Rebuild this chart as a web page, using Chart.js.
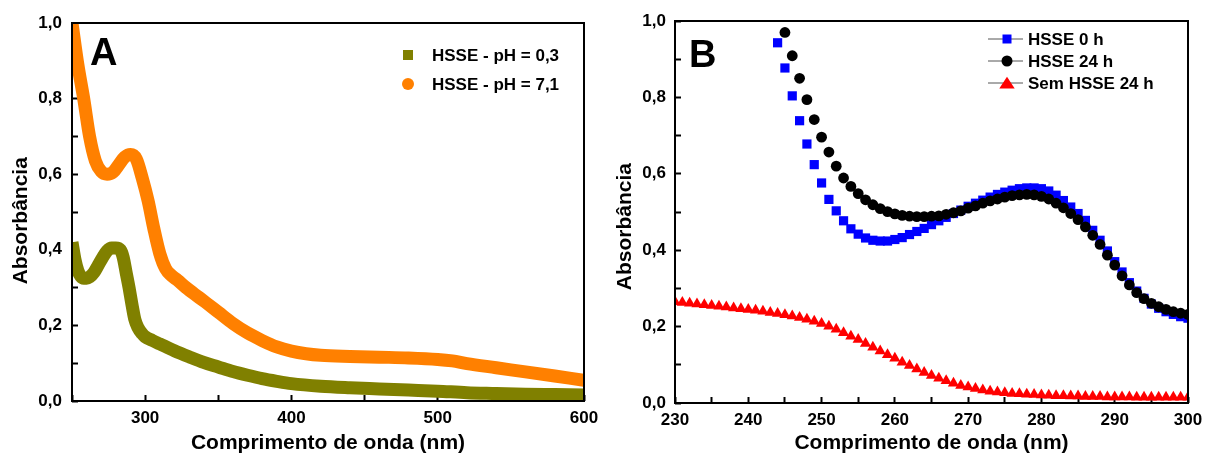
<!DOCTYPE html>
<html>
<head>
<meta charset="utf-8">
<script src="https://cdn.jsdelivr.net/npm/chart.js@4.4.1/dist/chart.umd.min.js"></script>
<style>
  html, body { margin: 0; padding: 0; background: #fff; }
  #wrap { position: relative; width: 1213px; height: 454px; overflow: hidden; }
  canvas { position: absolute; top: 0; }
  #chartA { left: 0; }
  #chartB { left: 600px; }
</style>
</head>
<body>
<div id="wrap">
  <canvas id="chartA" width="600" height="454"></canvas>
  <canvas id="chartB" width="613" height="454"></canvas>
</div>
<script>
// Painel A
const wlA03 = [250, 252, 254, 256, 258, 260, 262, 265, 268, 271, 274, 277, 280, 283, 285, 287, 289, 291, 293, 295, 298, 300,
  305, 310, 320, 330, 340, 350, 360, 370, 380, 390, 400, 420, 440, 460, 480, 500, 520, 540, 560, 580, 600];
const absA03 = [0.42, 0.375, 0.345, 0.33, 0.325, 0.325, 0.328, 0.34, 0.36, 0.38, 0.397, 0.405, 0.405, 0.40, 0.38, 0.34, 0.30, 0.255, 0.215, 0.195, 0.178, 0.170,
  0.160, 0.151, 0.133, 0.117, 0.102, 0.090, 0.078, 0.068, 0.059, 0.052, 0.046, 0.039, 0.035, 0.032, 0.029, 0.026, 0.022, 0.020, 0.018, 0.017, 0.016];

const wlA71 = [250, 254, 258, 262, 266, 270, 274, 278, 282, 286, 290, 294, 298, 302, 306, 310, 314, 318, 322, 328, 334, 340,
  350, 360, 370, 380, 390, 400, 410, 420, 440, 460, 480, 500, 510, 520, 540, 560, 580, 600];
const absA71 = [1.0, 0.89, 0.80, 0.70, 0.635, 0.607, 0.60, 0.605, 0.625, 0.645, 0.652, 0.64, 0.59, 0.53, 0.455, 0.39, 0.35, 0.332, 0.32, 0.30, 0.282, 0.265,
  0.235, 0.205, 0.18, 0.16, 0.143, 0.132, 0.125, 0.121, 0.118, 0.116, 0.114, 0.110, 0.106, 0.099, 0.088, 0.077, 0.066, 0.055];

// Painel B
const wlB0 = [244, 245, 246, 247, 248, 249, 250, 251, 252, 253, 254, 255, 256, 257, 258, 259, 260, 261, 262, 263, 264, 265, 266, 267, 268, 269,
  270, 271, 272, 273, 274, 275, 276, 277, 278, 279, 280, 281, 282, 283, 284, 285, 286, 287, 288, 289, 290, 291, 292, 293, 294, 295, 296, 297, 298, 299, 300];
const absB0 = [0.943, 0.877, 0.804, 0.739, 0.678, 0.624, 0.576, 0.533, 0.503, 0.477, 0.456, 0.442, 0.432, 0.426, 0.424, 0.424, 0.428, 0.433, 0.441, 0.449, 0.457, 0.467, 0.477, 0.486, 0.496, 0.505,
  0.515, 0.523, 0.531, 0.539, 0.546, 0.552, 0.557, 0.561, 0.563, 0.563, 0.561, 0.555, 0.544, 0.530, 0.513, 0.496, 0.478, 0.452, 0.426, 0.398, 0.370, 0.343, 0.315, 0.293, 0.274, 0.259, 0.248, 0.239, 0.232, 0.226, 0.222];

const wlB24 = [245, 246, 247, 248, 249, 250, 251, 252, 253, 254, 255, 256, 257, 258, 259, 260, 261, 262, 263, 264, 265, 266, 267, 268, 269,
  270, 271, 272, 273, 274, 275, 276, 277, 278, 279, 280, 281, 282, 283, 284, 285, 286, 287, 288, 289, 290, 291, 292, 293, 294, 295, 296, 297, 298, 299, 300];
const absB24 = [0.970, 0.909, 0.850, 0.794, 0.742, 0.696, 0.657, 0.620, 0.589, 0.567, 0.548, 0.532, 0.519, 0.509, 0.501, 0.495, 0.491, 0.489, 0.488, 0.488, 0.489, 0.490, 0.494, 0.498, 0.503,
  0.510, 0.516, 0.523, 0.529, 0.534, 0.539, 0.543, 0.545, 0.546, 0.545, 0.541, 0.534, 0.523, 0.511, 0.496, 0.480, 0.461, 0.439, 0.415, 0.387, 0.361, 0.333, 0.309, 0.289, 0.273, 0.261, 0.252, 0.245, 0.239, 0.235, 0.232];

const wlSem = [230, 231, 232, 233, 234, 235, 236, 237, 238, 239, 240, 241, 242, 243, 244, 245, 246, 247, 248, 249, 250, 251, 252, 253, 254, 255, 256, 257, 258, 259,
  260, 261, 262, 263, 264, 265, 266, 267, 268, 269, 270, 271, 272, 273, 274, 275, 276, 277, 278, 279, 280, 281, 282, 283, 284, 285, 286, 287, 288, 289,
  290, 291, 292, 293, 294, 295, 296, 297, 298, 299, 300];
const absSem = [0.265, 0.263, 0.261, 0.259, 0.257, 0.255, 0.253, 0.251, 0.249, 0.247, 0.245, 0.243, 0.240, 0.237, 0.234, 0.231, 0.228, 0.224, 0.219, 0.214, 0.208, 0.201, 0.193, 0.184, 0.175, 0.166, 0.156, 0.146, 0.136, 0.126,
  0.117, 0.107, 0.098, 0.089, 0.080, 0.072, 0.065, 0.058, 0.052, 0.046, 0.042, 0.038, 0.034, 0.031, 0.029, 0.027, 0.025, 0.024, 0.023, 0.022, 0.021, 0.020, 0.019, 0.019, 0.018, 0.018, 0.017, 0.017, 0.017, 0.016,
  0.016, 0.016, 0.016, 0.015, 0.015, 0.015, 0.015, 0.015, 0.015, 0.015, 0.015];

const FONT = '"Liberation Sans", Arial, sans-serif';
Chart.defaults.font.family = FONT;
Chart.defaults.font.weight = 'bold';
Chart.defaults.color = '#000';

const pts = (xs, ys) => xs.map((x, i) => ({ x: x, y: ys[i] }));
const yLabel = v => (Math.round(v * 10) % 2 === 0) ? v.toFixed(1).replace('.', ',') : '';

function drawMarker(ctx, style, x, y, s, color) {
  ctx.fillStyle = color;
  ctx.beginPath();
  if (style === 'rect') {
    ctx.rect(x - s / 2, y - s / 2, s, s);
  } else if (style === 'circle') {
    ctx.arc(x, y, s / 2, 0, Math.PI * 2);
  } else {
    ctx.moveTo(x, y - s * 0.45);
    ctx.lineTo(x + s * 0.55, y + s * 0.4);
    ctx.lineTo(x - s * 0.55, y + s * 0.4);
    ctx.closePath();
  }
  ctx.fill();
}

// moldura + legenda interna + letra do painel
const framePlugin = {
  id: 'frame',
  afterDatasetsDraw(chart, args, o) {
    const a = chart.chartArea, ctx = chart.ctx;
    ctx.save();
    ctx.strokeStyle = '#000';
    ctx.lineWidth = 2;
    ctx.strokeRect(a.left, a.top, a.right - a.left, a.bottom - a.top);

    ctx.textBaseline = 'middle';
    ctx.textAlign = 'left';
    chart.data.datasets.forEach((ds, i) => {
      const y = o.y + i * o.gap;
      if (o.lines) {
        ctx.strokeStyle = '#555';
        ctx.lineWidth = 1;
        ctx.beginPath();
        ctx.moveTo(o.x - 19, y);
        ctx.lineTo(o.x + 16, y);
        ctx.stroke();
      }
      drawMarker(ctx, ds.pointStyle, o.x, y, o.sizes[i], ds.borderColor);
      ctx.fillStyle = '#000';
      ctx.font = 'bold ' + o.fontSize + 'px ' + FONT;
      ctx.fillText(ds.label, o.textX, y + 1);
    });

    ctx.font = 'bold 38px ' + FONT;
    ctx.textBaseline = 'alphabetic';
    ctx.fillText(o.letter, o.letterX, o.letterY);
    ctx.restore();
  }
};

function axisX(min, max, step, major, height) {
  return {
    type: 'linear', min: min, max: max,
    afterFit: s => { s.height = height; s.paddingLeft = 0; s.paddingRight = 0; },
    border: { display: false },
    grid: { drawOnChartArea: false, color: '#000', tickColor: '#000', tickLength: -6, tickWidth: 2 },
    ticks: { stepSize: step, autoSkip: false, maxRotation: 0, padding: 13, font: { size: 17 },
      callback: v => (v % major === 0 && v !== min) || (v === min && min % major === 0) ? String(v) : '' },
    title: { display: true, text: 'Comprimento de onda (nm)', font: { size: 21, lineHeight: 1 }, padding: { top: 0, bottom: 0 } }
  };
}

function axisY(width, labelPad, titlePad, spaces) {
  return {
    type: 'linear', min: 0, max: 1,
    afterFit: s => { s.width = width; s.paddingTop = 0; s.paddingBottom = 0; },
    border: { display: false },
    grid: { drawOnChartArea: false, color: '#000', tickColor: '#000', tickLength: -6, tickWidth: 2 },
    ticks: { stepSize: 0.1, autoSkip: false, padding: labelPad, font: { size: 17 }, callback: yLabel },
    title: { display: true, text: 'Absorbância' + spaces, font: { size: 21, lineHeight: 1 }, padding: { top: titlePad, bottom: 0 } }
  };
}

new Chart(document.getElementById('chartA'), {
  type: 'line',
  data: {
    datasets: [
      { label: 'HSSE - pH = 0,3', data: pts(wlA03, absA03), borderColor: '#808000', backgroundColor: '#808000',
        pointStyle: 'rect', pointRadius: 0, borderWidth: 13, cubicInterpolationMode: 'monotone', borderCapStyle: 'butt' },
      { label: 'HSSE - pH = 7,1', data: pts(wlA71, absA71), borderColor: '#FF8000', backgroundColor: '#FF8000',
        pointStyle: 'circle', pointRadius: 0, borderWidth: 13, cubicInterpolationMode: 'monotone', borderCapStyle: 'butt' }
    ]
  },
  options: {
    responsive: false,
    animation: false,
    layout: { padding: { left: 0, top: 23, right: 16, bottom: 0 } },
    scales: { x: axisX(250, 600, 50, 100, 53), y: axisY(72, 16, 11, '   ') },
    plugins: {
      legend: { display: false },
      tooltip: { enabled: false },
      frame: { x: 408, y: 55, gap: 29, lines: false, sizes: [10, 12], textX: 432, fontSize: 17, letter: 'A', letterX: 90, letterY: 65 }
    }
  },
  plugins: [framePlugin]
});

new Chart(document.getElementById('chartB'), {
  type: 'line',
  data: {
    datasets: [
      { label: 'HSSE 0 h', data: pts(wlB0, absB0), borderColor: '#0000FF', backgroundColor: '#0000FF',
        showLine: false, pointStyle: 'rect', pointRadius: 6.5, pointBorderWidth: 0, order: 3 },
      { label: 'HSSE 24 h', data: pts(wlB24, absB24), borderColor: '#000000', backgroundColor: '#000000',
        showLine: false, pointStyle: 'circle', pointRadius: 5.4, pointBorderWidth: 0, order: 1 },
      { label: 'Sem HSSE 24 h', data: pts(wlSem, absSem), borderColor: '#FF0000', backgroundColor: '#FF0000',
        showLine: false, pointStyle: 'triangle', pointRadius: 6.5, pointBorderWidth: 0, order: 2 }
    ]
  },
  options: {
    responsive: false,
    animation: false,
    layout: { padding: { left: 0, top: 21, right: 25, bottom: 0 } },
    scales: { x: axisX(230, 300, 5, 10, 51), y: axisY(75, 15, 15, '     ') },
    plugins: {
      legend: { display: false },
      tooltip: { enabled: false },
      frame: { x: 407, y: 39, gap: 22, lines: true, sizes: [9, 11, 14], textX: 428, fontSize: 17, letter: 'B', letterX: 89, letterY: 67 }
    }
  },
  plugins: [framePlugin]
});
</script>
</body>
</html>
